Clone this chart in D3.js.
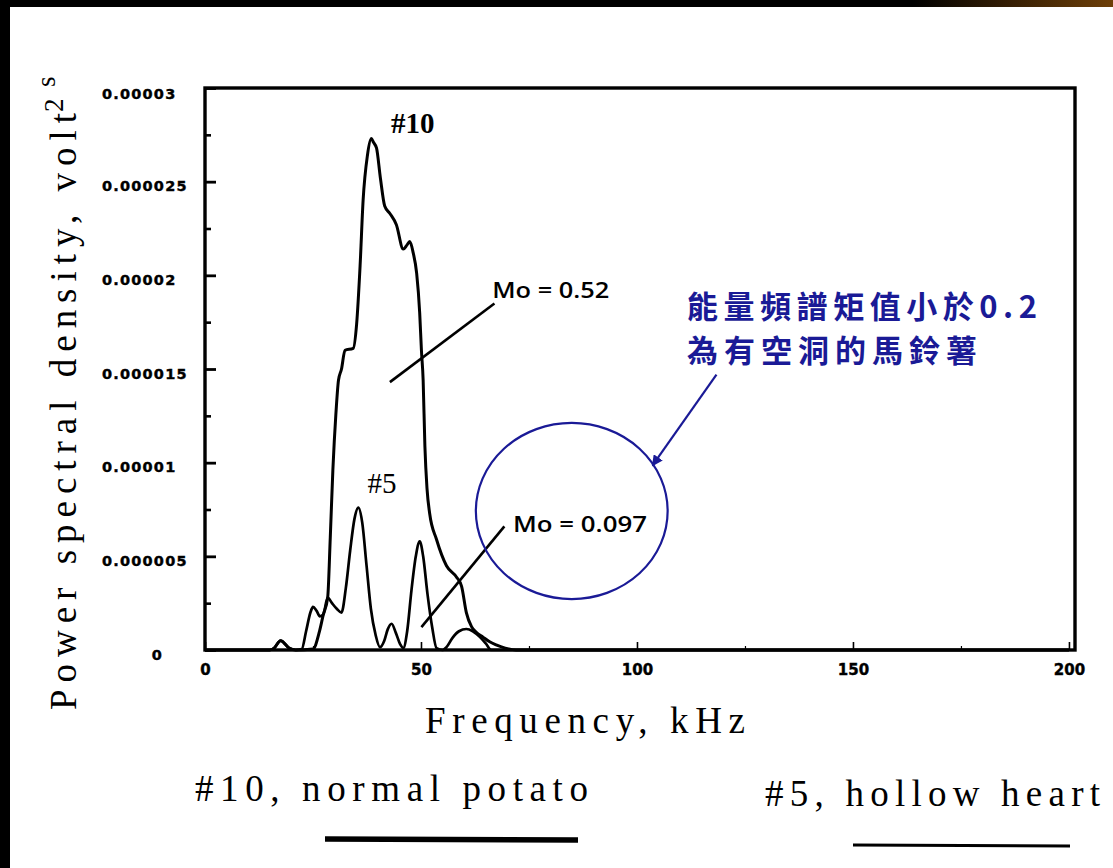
<!DOCTYPE html>
<html><head><meta charset="utf-8">
<script src="https://cdn.jsdelivr.net/npm/d3@7"></script>
<style>body{margin:0;background:#fff;} svg{display:block}</style>
</head><body>
<svg id="c" width="1113" height="868"></svg>
<script>
// ---- data (frequency in kHz, PSD in volt^2 s) ----
const freq10 = [0, 15, 16, 17.5, 19.5, 21, 25, 26.5, 27.4, 28.4, 29.0, 29.6, 30.3, 30.9, 31.6, 32.4, 34.3, 35.1, 35.9, 36.6, 37.6, 38.5, 39.0, 39.7, 40.6, 41.6, 42.8, 44.3, 45.9, 46.7, 47.4, 48.2, 49.0, 49.7, 50.1, 50.5, 50.9, 51.4, 52.0, 53.6, 55.9, 58.2, 59.4, 60.5, 61.7, 62.8, 64.3, 65.8, 67.4, 69.5, 72, 200];
const psd10  = [0, 0, 0.1e-6, 0.5e-6, 0.1e-6, 0, 0.05e-6, 1.0e-6, 1.9e-6, 2.8e-6, 6.0e-6, 9.6e-6, 12.6e-6, 14.4e-6, 15.0e-6, 16.0e-6, 16.1e-6, 17.4e-6, 20.5e-6, 24.0e-6, 26.4e-6, 27.3e-6, 27.1e-6, 26.8e-6, 25.2e-6, 23.7e-6, 23.3e-6, 22.7e-6, 21.4e-6, 21.6e-6, 21.8e-6, 21.2e-6, 20.1e-6, 18.0e-6, 16.0e-6, 14.4e-6, 10.9e-6, 8.6e-6, 7.3e-6, 5.9e-6, 4.5e-6, 3.9e-6, 3.4e-6, 2.0e-6, 1.25e-6, 0.95e-6, 0.7e-6, 0.45e-6, 0.27e-6, 0.1e-6, 0, 0];

const freq5 = [0, 15, 16, 17.5, 19.5, 21, 22.4, 23.4, 24.4, 25.0, 25.8, 26.6, 27.4, 28.4, 29.4, 30.5, 31.6, 32.6, 33.6, 34.6, 35.5, 36.4, 37.4, 38.4, 39.5, 40.5, 41.5, 42.3, 43.2, 44.2, 45.2, 45.9, 46.8, 47.8, 48.8, 49.7, 50.5, 51.5, 52.6, 53.6, 55.0, 55.9, 57.3, 58.8, 60.5, 62.0, 63.6, 65.0, 66.3, 200];
const psd5  = [0, 0, 0.1e-6, 0.5e-6, 0.1e-6, 0, 0.05e-6, 1.0e-6, 2.0e-6, 2.3e-6, 2.1e-6, 1.8e-6, 1.9e-6, 2.8e-6, 2.5e-6, 2.2e-6, 2.0e-6, 3.3e-6, 5.3e-6, 7.0e-6, 7.6e-6, 6.8e-6, 4.5e-6, 2.2e-6, 0.8e-6, 0.15e-6, 0.5e-6, 1.1e-6, 1.4e-6, 0.9e-6, 0.3e-6, 0.1e-6, 1.0e-6, 3.2e-6, 5.0e-6, 5.8e-6, 5.0e-6, 3.0e-6, 1.2e-6, 0.1e-6, 0, 0.15e-6, 0.65e-6, 1.0e-6, 1.12e-6, 1.0e-6, 0.7e-6, 0.35e-6, 0, 0];

const yTicks = [0, 0.000005, 0.00001, 0.000015, 0.00002, 0.000025, 0.00003];
const yTickLabels = ["0", "0.000005", "0.00001", "0.000015", "0.00002", "0.000025", "0.00003"];
const yMinorTicks = [0.0000025, 0.0000075, 0.0000125, 0.0000175, 0.0000225, 0.0000275];
const xTicks = [0, 50, 100, 150, 200];
const xTickLabels = ["0", "50", "100", "150", "200"];
const xMinorTicks = [25, 75, 125, 175];

const seriesNames = ["#10", "#5"];
const legendLabels = ["#10, normal potato", "#5, hollow heart"];
const moLabels = ["Mo = 0.52", "Mo = 0.097"];
// annotation leader lines in data units [f1, v1, f2, v2]
const moLines = [[42.8, 14.3e-6, 67.0, 18.5e-6], [50.1, 1.22e-6, 69.3, 6.6e-6]];
const moTextPos = [[66.5, 18.8e-6], [71.3, 6.3e-6]];
const seriesLabelPos = [[48.1, 27.6e-6], [41.0, 8.4e-6]];
const calloutEllipse = [84.9, 7.42e-6, 22.2, 4.7e-6]; // cx, cy, rx(kHz), ry(psd)
const calloutArrow = [118.4, 14.7e-6, 103.6, 9.85e-6];
const calloutText = ["能量頻譜矩值小於0.2", "為有空洞的馬鈴薯"];

// ---- drawing ----
const svg = d3.select("#c");
const W = 1113, H = 868;
const x = d3.scaleLinear().domain([0, 201.4]).range([205, 1075]);
const y = d3.scaleLinear().domain([0, 0.00003]).range([650, 88]);

const defs = svg.append("defs");
const grad = defs.append("linearGradient").attr("id", "topg").attr("x1", 0).attr("x2", 1).attr("y1", 0).attr("y2", 0);
grad.append("stop").attr("offset", "0.82").attr("stop-color", "#000");
grad.append("stop").attr("offset", "1").attr("stop-color", "#6e3f08");
const ac = defs.append("marker").attr("id", "arr").attr("viewBox", "0 0 10 10").attr("refX", 9).attr("refY", 5)
  .attr("markerWidth", 5).attr("markerHeight", 5).attr("orient", "auto");
ac.append("path").attr("d", "M0,0L10,5L0,10z").attr("fill", "#1a1a96");

svg.append("rect").attr("x", 0).attr("y", 0).attr("width", W).attr("height", H).attr("fill", "#fff");
svg.append("rect").attr("x", 0).attr("y", 0).attr("width", W).attr("height", 7).attr("fill", "url(#topg)");
svg.append("rect").attr("x", 0).attr("y", 0).attr("width", 10).attr("height", H).attr("fill", "#000");

// axes
const tickFont = "'DejaVu Sans', sans-serif";
const gy = svg.append("g").attr("transform", `translate(${x(0)},0)`)
  .call(d3.axisLeft(y).tickValues(yTicks).tickSize(-11).tickFormat((d, i) => yTickLabels[i]));
gy.select(".domain").remove();
gy.selectAll("line").attr("stroke", "#000").attr("stroke-width", 2.8);
gy.selectAll("text").attr("font-family", tickFont).attr("font-weight", "bold").attr("font-size", 14.5)
  .attr("letter-spacing", 1.2).attr("fill", "#000").attr("stroke", "#000").attr("stroke-width", 0.4)
  .attr("text-anchor", (d, i) => i === 0 ? "end" : "start")
  .attr("x", (d, i) => i === 0 ? -42 : -103)
  .attr("dy", (d, i) => i === yTicks.length - 1 ? "0.72em" : "0.62em");
const gym = svg.append("g").attr("transform", `translate(${x(0)},0)`)
  .call(d3.axisLeft(y).tickValues(yMinorTicks).tickSize(-6).tickFormat(""));
gym.select(".domain").remove();
gym.selectAll("line").attr("stroke", "#000").attr("stroke-width", 2.6);

const gx = svg.append("g").attr("transform", `translate(0,${y(0)})`)
  .call(d3.axisBottom(x).tickValues(xTicks).tickSize(-8).tickFormat((d, i) => xTickLabels[i]));
gx.select(".domain").remove();
gx.selectAll("line").attr("stroke", "#000").attr("stroke-width", 1.6);
gx.selectAll("text").attr("font-family", tickFont).attr("font-weight", "bold").attr("font-size", 15)
  .attr("fill", "#000").attr("stroke", "#000").attr("stroke-width", 0.4).attr("y", 14).attr("dy", "0.71em");
const gxm = svg.append("g").attr("transform", `translate(0,${y(0)})`)
  .call(d3.axisBottom(x).tickValues(xMinorTicks).tickSize(-4).tickFormat(""));
gxm.select(".domain").remove();
gxm.selectAll("line").attr("stroke", "#000").attr("stroke-width", 1.2);

// frame
svg.append("rect").attr("x", x(0)).attr("y", y(0.00003)).attr("width", x(201.4) - x(0)).attr("height", y(0) - y(0.00003))
  .attr("fill", "none").attr("stroke", "#000").attr("stroke-width", 3.4);

// curves
const line = d3.line().x(d => x(d[0])).y(d => y(d[1])).curve(d3.curveMonotoneX);
const s10 = freq10.map((f, i) => [f, psd10[i]]);
const s5 = freq5.map((f, i) => [f, psd5[i]]);
svg.append("path").attr("d", line(s10)).attr("fill", "none").attr("stroke", "#000").attr("stroke-width", 3).attr("stroke-linejoin", "round");
svg.append("path").attr("d", line(s5)).attr("fill", "none").attr("stroke", "#000").attr("stroke-width", 2.7).attr("stroke-linejoin", "round");

// series labels
const serif = "'Liberation Serif', 'Times New Roman', serif";
svg.append("text").attr("x", x(seriesLabelPos[0][0])).attr("y", y(seriesLabelPos[0][1])).attr("text-anchor", "middle")
  .attr("font-family", serif).attr("font-weight", "bold").attr("font-size", 29).text(seriesNames[0]);
svg.append("text").attr("x", x(seriesLabelPos[1][0])).attr("y", y(seriesLabelPos[1][1])).attr("text-anchor", "middle")
  .attr("font-family", serif).attr("font-size", 29).text(seriesNames[1]);

// Mo annotations
moLines.forEach(l => {
  svg.append("line").attr("x1", x(l[0])).attr("y1", y(l[1])).attr("x2", x(l[2])).attr("y2", y(l[3]))
    .attr("stroke", "#000").attr("stroke-width", 2.6);
});
moLabels.forEach((t, i) => {
  svg.append("text").attr("x", x(moTextPos[i][0])).attr("y", y(moTextPos[i][1]))
    .attr("font-family", "'Open Sans', 'DejaVu Sans', sans-serif").attr("font-weight", 600).attr("font-size", 21)
    .attr("textLength", i === 0 ? 117 : 134).attr("lengthAdjust", "spacingAndGlyphs").text(t);
});

// blue callout
const blue = "#1a1a96";
svg.append("ellipse").attr("cx", x(calloutEllipse[0])).attr("cy", y(calloutEllipse[1]))
  .attr("rx", x(calloutEllipse[2]) - x(0)).attr("ry", y(0) - y(calloutEllipse[3]))
  .attr("fill", "none").attr("stroke", blue).attr("stroke-width", 2.2);
svg.append("line").attr("x1", x(calloutArrow[0])).attr("y1", y(calloutArrow[1])).attr("x2", x(calloutArrow[2])).attr("y2", y(calloutArrow[3]))
  .attr("stroke", blue).attr("stroke-width", 2.2).attr("marker-end", "url(#arr)");
calloutText.forEach((t, i) => {
  svg.append("text").attr("x", 687).attr("y", 318 + i * 44)
    .attr("font-family", "'Noto Sans CJK TC', 'Noto Sans CJK SC', sans-serif").attr("font-weight", 700)
    .attr("font-size", 31).attr("fill", blue)
    .attr("textLength", i === 0 ? 350 : 290).attr("lengthAdjust", "spacing").text(t);
});

// axis titles
svg.append("text").attr("x", 425).attr("y", 733).attr("font-family", serif).attr("font-size", 37)
  .attr("textLength", 320).attr("lengthAdjust", "spacing").text("Frequency, kHz");
const yt = svg.append("g").attr("transform", "translate(76,710) rotate(-90)");
yt.append("text").attr("x", 0).attr("y", 0).attr("font-family", serif).attr("font-size", 37)
  .attr("textLength", 597).attr("lengthAdjust", "spacing").text("Power spectral density, volt");
yt.append("text").attr("x", 598).attr("y", -13).attr("font-family", serif).attr("font-size", 27).text("2");
yt.append("text").attr("x", 623).attr("y", -21).attr("font-family", serif).attr("font-size", 27).text("s");

// bottom legend captions with underline bars
svg.append("text").attr("x", 195).attr("y", 801).attr("font-family", serif).attr("font-size", 37)
  .attr("textLength", 393).attr("lengthAdjust", "spacing").text(legendLabels[0]);
svg.append("text").attr("x", 765).attr("y", 806).attr("font-family", serif).attr("font-size", 37)
  .attr("textLength", 335).attr("lengthAdjust", "spacing").text(legendLabels[1]);
svg.append("line").attr("x1", 325).attr("y1", 839).attr("x2", 578).attr("y2", 840).attr("stroke", "#000").attr("stroke-width", 5.5);
svg.append("line").attr("x1", 853).attr("y1", 845).attr("x2", 1070).attr("y2", 846).attr("stroke", "#000").attr("stroke-width", 3.2);
</script>
</body></html>
